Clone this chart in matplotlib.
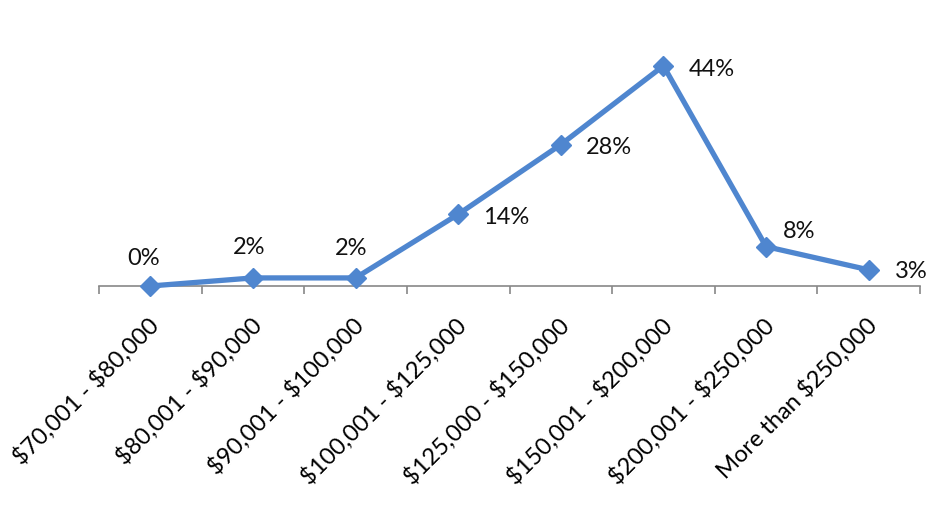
import matplotlib
matplotlib.use("Agg")
import matplotlib.pyplot as plt
import matplotlib.transforms as mtransforms
import numpy as np

categories = ["$70,001 - $80,000", "$80,001 - $90,000", "$90,001 - $100,000",
              "$100,001 - $125,000", "$125,000 - $150,000", "$150,001 - $200,000",
              "$200,001 - $250,000", "More than $250,000"]
values = [0.0, 1.6, 1.6, 14.2, 28.0, 43.6, 7.8, 3.2]
labels = ["0%", "2%", "2%", "14%", "28%", "44%", "8%", "3%"]

# label offsets in points (style only)
label_offsets = [(-5, 20), (-3, 22), (-3, 21), (18, -2), (18, -2), (18, -3), (12, 11), (19, -1)]
label_ha = ["center", "center", "center", "left", "left", "left", "left", "left"]

plt.rcParams['font.family'] = ['Lato', 'DejaVu Sans']
plt.rcParams['text.parse_math'] = False

fig = plt.figure(figsize=(9.43, 5.15), dpi=100)
W, H = 943, 515
x0, x1 = 99, 920
y0 = 286
ytop = 286 - 50 * 5.05
ax = fig.add_axes([x0 / W, (H - y0) / H, (x1 - x0) / W, (y0 - ytop) / H])

color = '#4F86CF'
x = np.arange(len(categories))
ax.plot(x, values, color=color, lw=3.8, marker='D', ms=10, mec=color, mfc=color, clip_on=False, zorder=3)

for xi, v, lab, off, ha in zip(x, values, labels, label_offsets, label_ha):
    ax.annotate(lab, (xi, v), xytext=off, textcoords='offset points', ha=ha, va='center',
                fontsize=17, color='#111111')

ax.set_xlim(-0.5, len(categories) - 0.5)
ax.set_ylim(0, 50)
for s in ['top', 'right', 'left']:
    ax.spines[s].set_visible(False)
ax.spines['bottom'].set_color('#888888')
ax.spines['bottom'].set_linewidth(1.2)
ax.set_yticks([])

ax.set_xticks(x)
ax.set_xticklabels(categories, rotation=45, ha='right', va='center', rotation_mode='anchor', fontsize=17)
ax.tick_params(axis='x', which='major', length=0, pad=26)
ax.set_xticks(np.arange(-0.5, len(categories)), minor=True)
ax.tick_params(axis='x', which='minor', length=6, width=1.2, color='#888888', direction='out')

offset = mtransforms.ScaledTranslation(5 / 100, 0, fig.dpi_scale_trans)
for lbl in ax.get_xticklabels():
    lbl.set_transform(lbl.get_transform() + offset)

fig.savefig("out.png", dpi=100)
